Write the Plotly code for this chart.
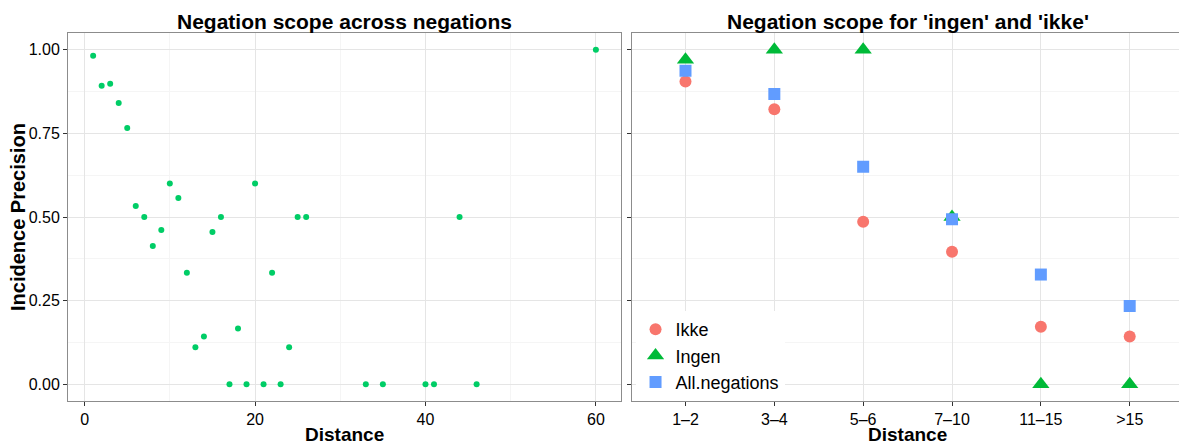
import plotly.graph_objects as go

# ---- data: left panel ----
distance = [1, 2, 3, 4, 5, 6, 7, 8, 9, 10, 11, 12, 13, 14, 15, 16, 17, 18, 19, 20,
            21, 22, 23, 24, 25, 26, 33, 35, 40, 41, 44, 46, 60]
precision = [0.982, 0.892, 0.898, 0.841, 0.766, 0.533, 0.5, 0.413, 0.461, 0.6,
             0.557, 0.333, 0.111, 0.143, 0.455, 0.5, 0.0, 0.167, 0.0, 0.6,
             0.0, 0.333, 0.0, 0.111, 0.5, 0.5, 0.0, 0.0, 0.0, 0.0, 0.5, 0.0, 1.0]

# ---- data: right panel ----
categories = ["1\u20132", "3\u20134", "5\u20136", "7\u201310", "11\u201315", ">15"]
ikke = [0.905, 0.822, 0.486, 0.396, 0.172, 0.143]
ingen = [0.97, 1.0, 1.0, 0.5, 0.0, 0.0]
all_neg = [0.937, 0.868, 0.650, 0.493, 0.328, 0.234]

y_ticks = [0, 0.25, 0.5, 0.75, 1.0]
y_ticklabels = ["0.00", "0.25", "0.50", "0.75", "1.00"]

FONT = "Liberation Sans, Arial, Helvetica, sans-serif"

fig = go.Figure()

fig.add_trace(go.Scatter(
    x=distance, y=precision, mode="markers", xaxis="x", yaxis="y",
    marker=dict(color="#00CD66", size=6), showlegend=False))

fig.add_trace(go.Scatter(
    x=categories, y=ikke, mode="markers", name="Ikke", xaxis="x2", yaxis="y2",
    marker=dict(color="#F8766D", size=12, symbol="circle")))
fig.add_trace(go.Scatter(
    x=categories, y=ingen, mode="markers", name="Ingen", xaxis="x2", yaxis="y2",
    marker=dict(color="#00BA38", size=15, symbol="triangle-up")))
fig.add_trace(go.Scatter(
    x=categories, y=all_neg, mode="markers", name="All.negations", xaxis="x2", yaxis="y2",
    marker=dict(color="#619CFF", size=12, symbol="square")))

axis_common = dict(
    showline=True, mirror=True, linecolor="#8c8c8c", linewidth=1,
    ticks="outside", ticklen=4, tickcolor="#333333",
    gridcolor="#e5e5e5", gridwidth=1, zeroline=False,
    tickfont=dict(size=16, color="black", family=FONT),
)
minor_common = dict(showgrid=True, gridcolor="#f5f5f5", gridwidth=1, ticks="")

fig.update_layout(
    width=1179, height=436,
    margin=dict(l=60, r=4, t=25, b=43),
    paper_bgcolor="white", plot_bgcolor="white",
    font=dict(family=FONT, color="black"),
    xaxis=dict(domain=[0, 0.496], range=[-1.95, 62.95],
               tickvals=[0, 20, 40, 60], minor=dict(dtick=10, tick0=0, **minor_common),
               **axis_common),
    yaxis=dict(domain=[0, 1], range=[-0.05, 1.05], tickvals=y_ticks,
               ticktext=y_ticklabels, minor=dict(tickvals=[0.125, 0.375, 0.625, 0.875], **minor_common),
               **axis_common),
    xaxis2=dict(domain=[0.506, 1.0], range=[-0.6, 5.6], type="category",
                categoryorder="array", categoryarray=categories, anchor="y2",
                **axis_common),
    yaxis2=dict(domain=[0, 1], range=[-0.05, 1.05], tickvals=y_ticks,
                showticklabels=False, anchor="x2",
                minor=dict(tickvals=[0.125, 0.375, 0.625, 0.875], **minor_common),
                **axis_common),
    legend=dict(x=0.509, y=0.0, xanchor="left", yanchor="bottom",
                bgcolor="white", font=dict(size=18, family=FONT),
                tracegroupgap=0, itemwidth=30),
    annotations=[
        dict(text="<b>Negation scope across negations</b>", x=0.248, y=1.0,
             xref="paper", yref="paper", xanchor="center", yanchor="bottom",
             yshift=-2, showarrow=False, font=dict(size=21)),
        dict(text="<b>Negation scope for 'ingen' and 'ikke'</b>", x=0.753, y=1.0,
             xref="paper", yref="paper", xanchor="center", yanchor="bottom",
             yshift=-2, showarrow=False, font=dict(size=21)),
        dict(text="<b>Distance</b>", x=0.248, y=0, xref="paper", yref="paper",
             xanchor="center", yanchor="middle", yshift=-33, showarrow=False,
             font=dict(size=19)),
        dict(text="<b>Distance</b>", x=0.753, y=0, xref="paper", yref="paper",
             xanchor="center", yanchor="middle", yshift=-33, showarrow=False,
             font=dict(size=19)),
        dict(text="<b>Incidence Precision</b>", x=0, y=0.5, xref="paper", yref="paper",
             xanchor="center", yanchor="middle", xshift=-50, textangle=-90,
             showarrow=False, font=dict(size=20)),
    ],
)

fig.write_html("out.html")
